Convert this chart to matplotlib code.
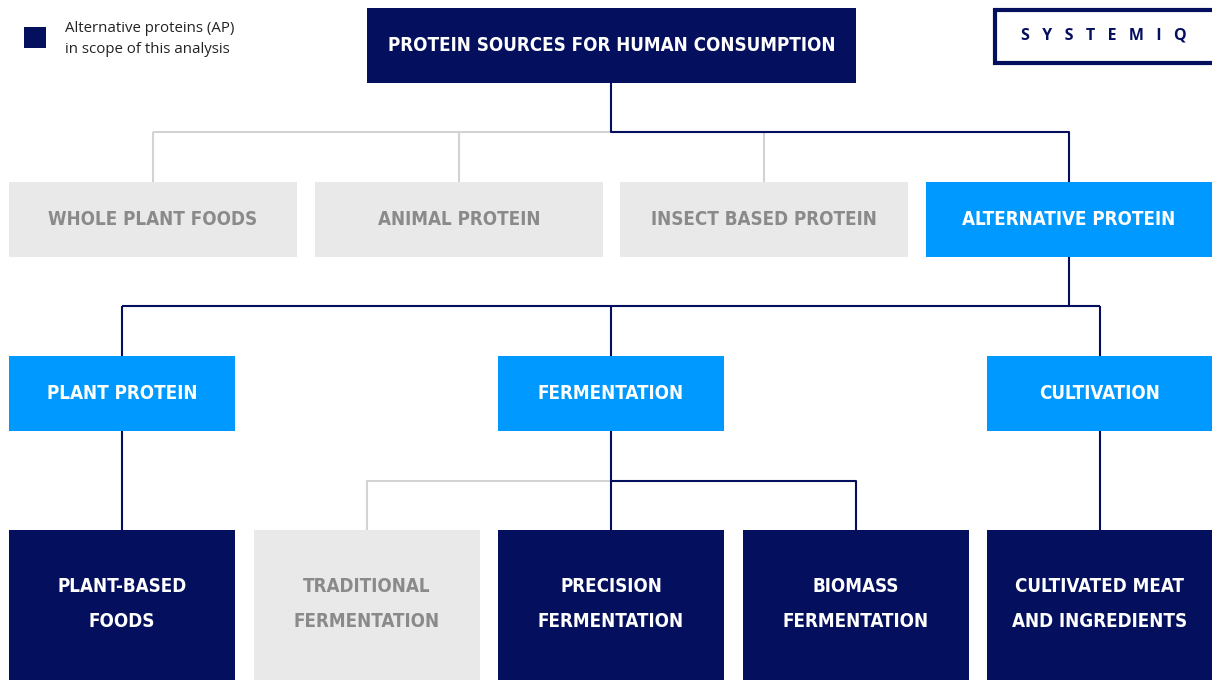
import matplotlib.pyplot as plt
from matplotlib.patches import Rectangle
from matplotlib import font_manager

# ------------------------------ #
# data: node labels per level and whether they are in scope (AP)
rootLabel = 'PROTEIN SOURCES FOR HUMAN CONSUMPTION'
level1Labels = ['WHOLE PLANT FOODS', 'ANIMAL PROTEIN', 'INSECT BASED PROTEIN', 'ALTERNATIVE PROTEIN']
level1InScope = [False, False, False, True]
level2Labels = ['PLANT PROTEIN', 'FERMENTATION', 'CULTIVATION']
level3Labels = ['PLANT-BASED\nFOODS', 'TRADITIONAL\nFERMENTATION', 'PRECISION\nFERMENTATION',
                'BIOMASS\nFERMENTATION', 'CULTIVATED MEAT\nAND INGREDIENTS']
level3InScope = [True, False, True, True, True]
level3Parent = [0, 1, 1, 1, 2]
legendText = 'Alternative proteins (AP)\nin scope of this analysis'
logoText = 'S   Y   S   T   E   M   I   Q'
# ------------------------------ #

NAVY = '#04105e'
BLUE = '#0099ff'
GREY_BOX = '#e9e9e9'
GREY_TEXT = '#8a8a8a'
GREY_LINE = '#d2d2d2'

names = {f.name for f in font_manager.fontManager.ttflist}
if 'Liberation Sans Narrow' in names:
	headFont = dict(family='Liberation Sans Narrow', fontweight='bold')
else:
	headFont = dict(family='DejaVu Sans', fontstretch='condensed', fontweight='bold')

fig = plt.figure(figsize=(12.12, 6.8), dpi=100)
ax = fig.add_axes([0, 0, 1, 1])
ax.set_xlim(0, 1212)
ax.set_ylim(680, 0)
ax.axis('off')

headTexts = []


def box(x0, x1, y0, y1, face, text, color, cy=None):
	ax.add_patch(Rectangle((x0, y0), x1 - x0, y1 - y0, facecolor=face, edgecolor='none', zorder=2))
	if cy is None:
		cy = (y0 + y1) / 2
	t = ax.text((x0 + x1) / 2, cy, text, ha='center', va='center', color=color,
	            fontsize=18, linespacing=2.05, zorder=3, **headFont)
	headTexts.append(t)


def line(xs, ys, color):
	ax.plot(xs, ys, color=color, lw=1.5, zorder=1, solid_capstyle='butt')


# root
box(367, 856, 8, 83, NAVY, rootLabel, 'white')

# level 1
l1x = [(9, 297), (315, 603), (620, 908), (926, 1212)]
l1c = [(a + b) / 2 for a, b in l1x]
line([l1c[0], l1c[2]], [132, 132], GREY_LINE)
for i, (x0, x1) in enumerate(l1x):
	if level1InScope[i]:
		box(x0, x1, 182, 257, BLUE, level1Labels[i], 'white')
	else:
		line([l1c[i], l1c[i]], [132, 182], GREY_LINE)
		box(x0, x1, 182, 257, GREY_BOX, level1Labels[i], GREY_TEXT)
line([611, 611, l1c[3], l1c[3]], [83, 132, 132, 182], NAVY)

# level 2
l2x = [(9, 235), (498, 724), (987, 1212)]
l2c = [(a + b) / 2 for a, b in l2x]
line([l1c[3], l1c[3]], [257, 306], NAVY)
line([l2c[0], l2c[2]], [306, 306], NAVY)
for i, (x0, x1) in enumerate(l2x):
	line([l2c[i], l2c[i]], [306, 356], NAVY)
	box(x0, x1, 356, 431, BLUE, level2Labels[i], 'white')

# level 3
l3x = [(9, 235), (254, 480), (498, 724), (743, 969), (987, 1212)]
l3c = [(a + b) / 2 for a, b in l3x]
for i, (x0, x1) in enumerate(l3x):
	p = level3Parent[i]
	if level3InScope[i]:
		if abs(l3c[i] - l2c[p]) < 1:
			line([l2c[p], l2c[p]], [431, 530], NAVY)
		else:
			line([l2c[p], l3c[i], l3c[i]], [481, 481, 530], NAVY)
		box(x0, x1, 530, 680, NAVY, level3Labels[i], 'white', cy=604)
	else:
		line([l2c[p], l3c[i], l3c[i]], [481, 481, 530], GREY_LINE)
		box(x0, x1, 530, 680, GREY_BOX, level3Labels[i], GREY_TEXT, cy=604)

# fit heading font size to roughly the width of the source title (a bit larger for height)
renderer = fig.canvas.get_renderer()
rootWidth = headTexts[0].get_window_extent(renderer).width
scale = 407 / rootWidth * 1.1
for t in headTexts:
	t.set_fontsize(18 * scale)

# legend
ax.add_patch(Rectangle((24, 27), 22, 21, facecolor=NAVY, edgecolor='none'))
ax.text(65, 39, legendText, ha='left', va='center', fontsize=10.8, family='Open Sans',
        color='#222222', linespacing=1.5)

# logo
ax.add_patch(Rectangle((994.5, 9.5), 230, 53, facecolor='white', edgecolor=NAVY, lw=3))
ax.text(1104, 36, logoText, ha='center', va='center', fontsize=11.5, family='Open Sans',
        fontweight='bold', color=NAVY)

fig.savefig('out.png', dpi=100)
